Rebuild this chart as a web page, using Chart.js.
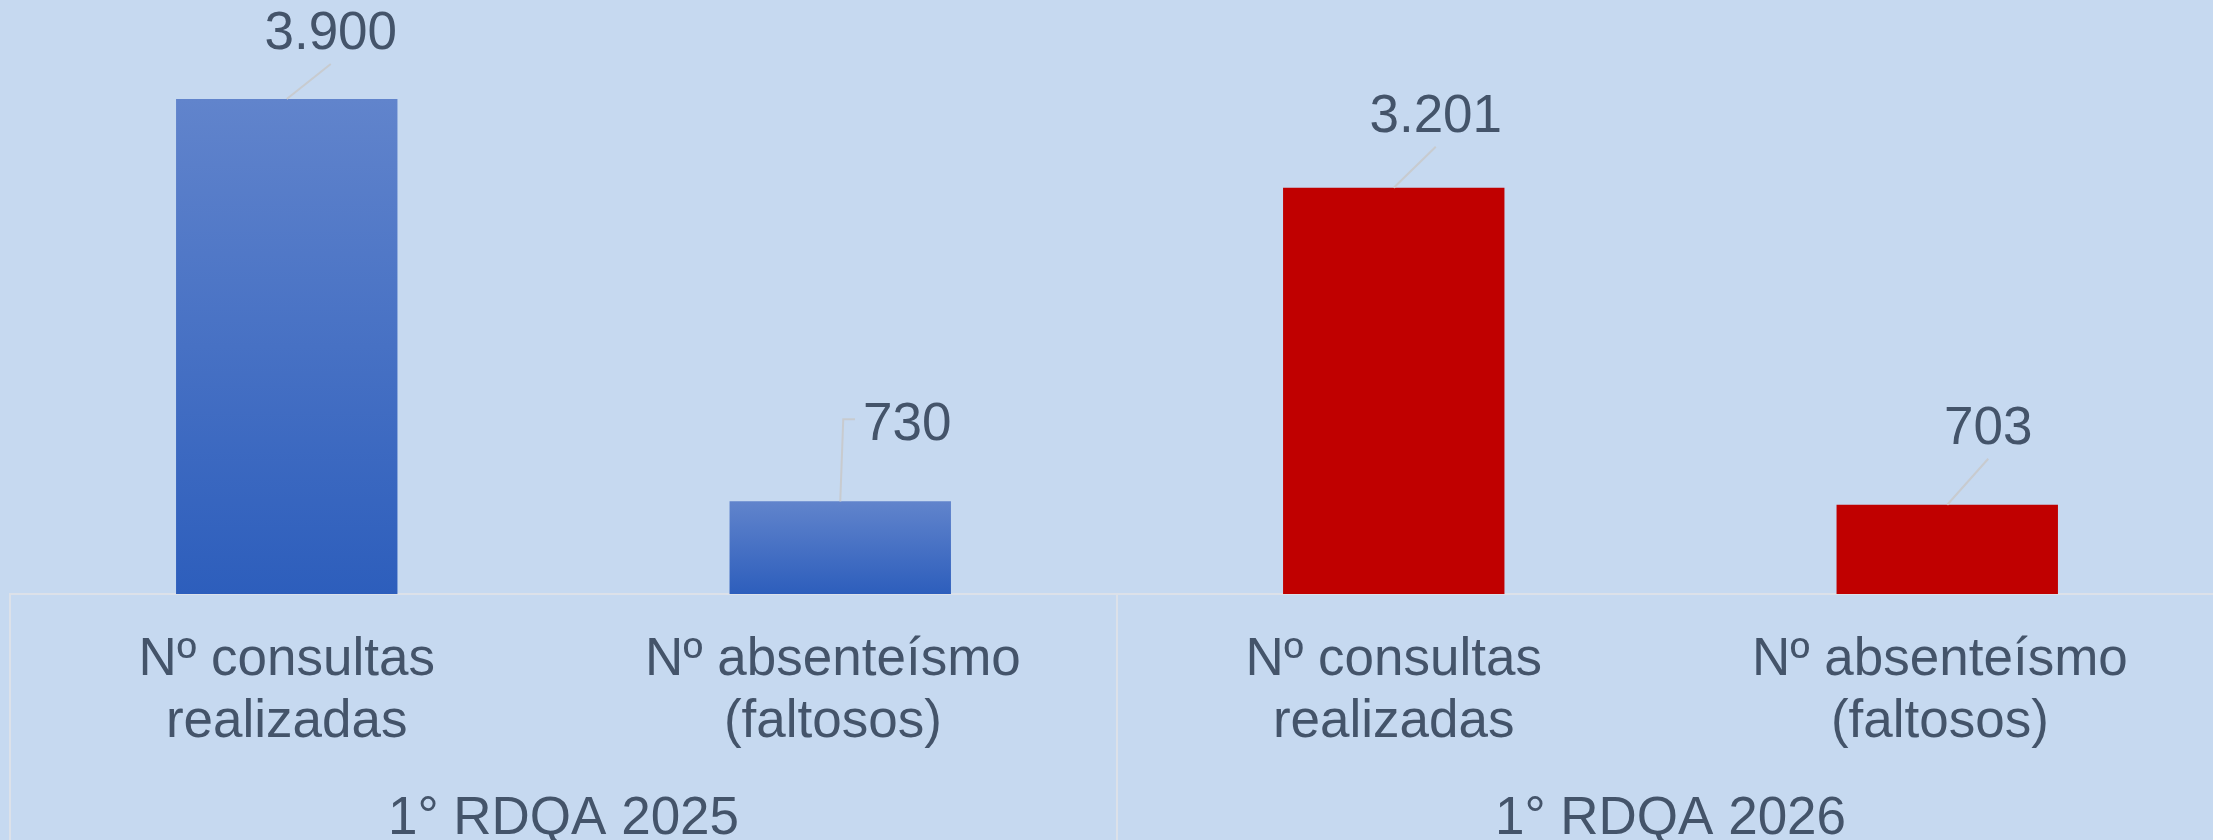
<!DOCTYPE html>
<html>
<head>
<meta charset="utf-8">
<script src="https://cdn.jsdelivr.net/npm/chart.js@4.4.1/dist/chart.umd.min.js"></script>
<style>
  html, body { margin: 0; padding: 0; background: #C6D9F0; overflow: hidden; }
  #wrap { width: 2224px; height: 840px; }
</style>
</head>
<body>
<div id="wrap"><canvas id="rdqaChart"></canvas></div>
<script>
// Data
var categories = [
    ['Nº consultas', 'realizadas'],
    ['Nº absenteísmo ', '(faltosos) '],
    ['Nº consultas', 'realizadas'],
    ['Nº absenteísmo ', '(faltosos) ']
];
var groups = ['1° RDQA 2025', '1° RDQA 2026'];
var values = [3900, 730, 3201, 703];
var barGroup = [0, 0, 1, 1];
var yMax = 4680;

// value label placement relative to bar top: [dx, dy, elbow leader]
var labelShift = [[44, 69, false], [67, 80, true], [42, 75, false], [41, 80, false]];

var textColor = '#44546A';
var fontFamily = '"Liberation Sans", Arial, sans-serif';

function fmt(v) {
    return String(v).replace(/\B(?=(\d{3})+(?!\d))/g, '.');
}

function barFill(context) {
    var chart = context.chart;
    if (barGroup[context.dataIndex] === 1) return '#C00000';
    if (!chart.chartArea) return '#4472C4';
    var y = chart.scales.y;
    var top = y.getPixelForValue(context.raw);
    var base = y.getPixelForValue(0);
    var g = chart.ctx.createLinearGradient(0, top, 0, base);
    g.addColorStop(0, '#6184CC');
    g.addColorStop(1, '#2D5EBC');
    return g;
}

// Background fill
var bgPlugin = {
    id: 'bg',
    beforeDraw: function(chart) {
        var ctx = chart.ctx;
        ctx.save();
        ctx.fillStyle = '#C6D9F0';
        ctx.fillRect(0, 0, chart.width, chart.height);
        ctx.restore();
    }
};

// Group divider lines under the axis
var dividerPlugin = {
    id: 'dividers',
    afterDraw: function(chart) {
        var ctx = chart.ctx;
        var x2 = chart.scales.x2;
        var c0 = x2.getPixelForValue(0);
        var c1 = x2.getPixelForValue(1);
        var half = (c1 - c0) / 2;
        ctx.save();
        ctx.strokeStyle = '#DCE1E9';
        ctx.lineWidth = 2;
        for (var i = 0; i <= groups.length; i++) {
            var px = Math.round(c0 - half + i * 2 * half);
            ctx.beginPath();
            ctx.moveTo(px, chart.chartArea.bottom);
            ctx.lineTo(px, chart.height);
            ctx.stroke();
        }
        ctx.restore();
    }
};

// Value labels with leader lines
var valueLabelPlugin = {
    id: 'valueLabels',
    afterDatasetsDraw: function(chart) {
        var ctx = chart.ctx;
        var meta = chart.getDatasetMeta(0);
        ctx.save();
        ctx.font = '53px ' + fontFamily;
        ctx.textAlign = 'center';
        ctx.textBaseline = 'alphabetic';
        meta.data.forEach(function(bar, i) {
            var s = labelShift[i];
            var text = fmt(values[i]);
            var lx = bar.x + s[0];
            var ly = bar.y - s[1];   // visual middle of the digits
            var w = ctx.measureText(text).width;
            ctx.strokeStyle = '#C8CBCF';
            ctx.lineWidth = 2;
            ctx.beginPath();
            ctx.moveTo(bar.x, bar.y);
            if (s[2]) {
                ctx.lineTo(bar.x + 3, ly - 2);
                ctx.lineTo(lx - w / 2 - 8, ly - 2);
            } else {
                ctx.lineTo(lx, ly + 34);
            }
            ctx.stroke();
            ctx.fillStyle = textColor;
            ctx.fillText(text, lx, ly + 19);
        });
        ctx.restore();
    }
};

var ctx1 = document.getElementById('rdqaChart').getContext('2d');
var rdqaChart = new Chart(ctx1, {
    type: 'bar',
    data: {
        labels: categories,
        datasets: [{
            label: 'RDQA',
            data: values,
            backgroundColor: barFill,
            borderWidth: 0,
            barPercentage: 0.4,
            categoryPercentage: 1
        }]
    },
    options: {
        responsive: true,
        maintainAspectRatio: false,
        animation: false,
        layout: {
            padding: { left: 10, right: 0, top: 0, bottom: 0 }
        },
        plugins: {
            legend: { display: false },
            tooltip: { enabled: false }
        },
        scales: {
            y: {
                display: false,
                min: 0,
                max: yMax
            },
            x: {
                position: 'bottom',
                offset: true,
                grid: { display: false },
                border: { display: true, color: '#DCE1E9', width: 2 },
                ticks: {
                    color: textColor,
                    font: { family: fontFamily, size: 53, lineHeight: 1.17 },
                    padding: 27,
                    maxRotation: 0,
                    autoSkip: false
                },
                afterFit: function(scale) { scale.height = 170; }
            },
            x2: {
                type: 'category',
                position: 'bottom',
                labels: groups,
                offset: true,
                grid: { display: false },
                border: { display: false },
                ticks: {
                    color: textColor,
                    font: { family: fontFamily, size: 53, lineHeight: 1.17 },
                    padding: 16,
                    maxRotation: 0,
                    autoSkip: false
                },
                afterFit: function(scale) { scale.height = 76; }
            }
        }
    },
    plugins: [bgPlugin, dividerPlugin, valueLabelPlugin]
});
</script>
</body>
</html>
